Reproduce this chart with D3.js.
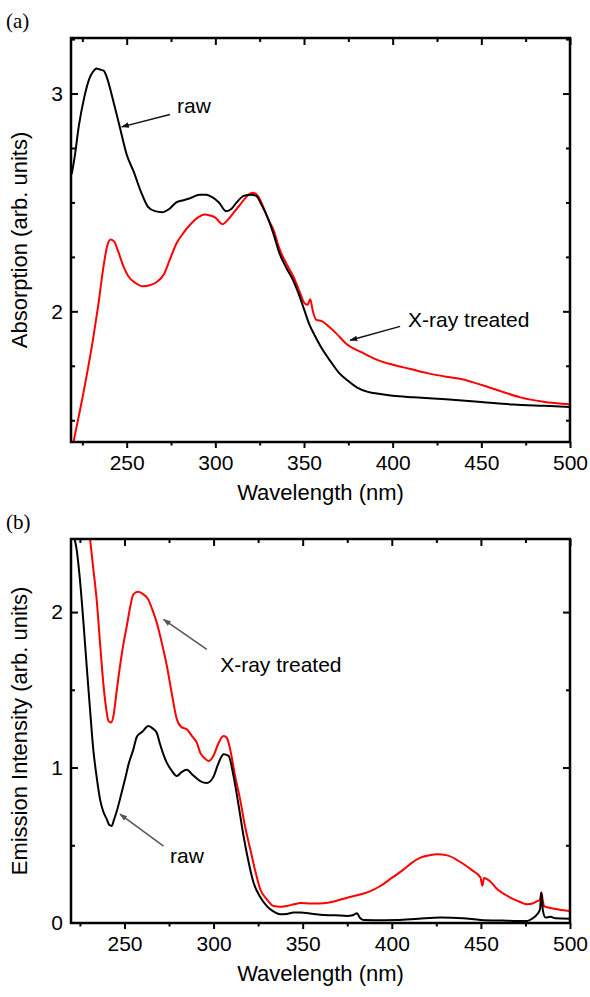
<!DOCTYPE html>
<html>
<head>
<meta charset="utf-8">
<script src="https://cdn.jsdelivr.net/npm/d3@7"></script>
<style>
  body { margin: 0; background: #fff; }
  text { font-family: "Liberation Sans", Arial, sans-serif; }
</style>
</head>
<body>
<div id="chart-area"></div>
<script>

// (a) absorption, raw
var absRawWl = [219, 220.5, 223, 226, 229, 231, 233, 235, 237, 239, 242, 246, 250, 254, 258, 262, 266, 270, 274, 278, 282, 286, 291, 295, 298, 302, 306, 309, 312, 316, 320, 323, 326, 330, 333, 336, 340, 344, 347, 350, 353, 356, 360, 365, 370, 375, 380, 386, 393, 400, 412, 430, 450, 468, 485, 500];
var absRawVal = [2.63, 2.70, 2.85, 2.98, 3.07, 3.10, 3.115, 3.11, 3.105, 3.07, 2.98, 2.85, 2.72, 2.64, 2.55, 2.48, 2.46, 2.455, 2.47, 2.50, 2.51, 2.52, 2.535, 2.535, 2.525, 2.50, 2.46, 2.47, 2.50, 2.53, 2.535, 2.53, 2.49, 2.42, 2.35, 2.27, 2.20, 2.14, 2.08, 2.01, 1.94, 1.89, 1.83, 1.77, 1.715, 1.68, 1.65, 1.63, 1.62, 1.612, 1.605, 1.596, 1.584, 1.572, 1.566, 1.561];

// (a) absorption, X-ray treated
var absXrWl = [220, 222, 225, 228, 231, 234, 237, 239, 241, 243, 245, 248, 251, 255, 259, 263, 267, 271, 274, 278, 282, 286, 290, 294, 297, 300, 304, 307, 310, 314, 318, 321, 324, 327, 330, 333, 336, 340, 344, 348, 350, 352, 353.5, 355, 357, 360, 364, 368, 374, 383, 392, 400, 410, 420, 430, 438, 445, 453, 462, 472, 485, 500];
var absXrVal = [1.40, 1.48, 1.60, 1.73, 1.87, 2.03, 2.21, 2.30, 2.33, 2.32, 2.28, 2.21, 2.16, 2.13, 2.115, 2.12, 2.135, 2.17, 2.23, 2.31, 2.36, 2.40, 2.43, 2.445, 2.44, 2.43, 2.40, 2.42, 2.45, 2.49, 2.53, 2.545, 2.53, 2.48, 2.42, 2.37, 2.29, 2.22, 2.16, 2.08, 2.04, 2.03, 2.055, 2.00, 1.96, 1.955, 1.93, 1.90, 1.85, 1.81, 1.775, 1.755, 1.735, 1.715, 1.70, 1.69, 1.675, 1.655, 1.63, 1.605, 1.585, 1.573];

// (b) emission, raw
var emRawWl = [222, 223.2, 225, 227, 228.8, 230.5, 232.5, 234.5, 236.3, 238, 240.1, 241.5, 242.9, 244, 245.7, 248, 250.3, 252.5, 255, 257, 260, 263.4, 266, 268.1, 270, 272, 273.8, 276.5, 279.4, 282, 285, 288.5, 292.5, 296.2, 299.9, 302.5, 305.6, 308.4, 311.2, 314, 316.8, 319.5, 322.4, 326, 329.9, 333.5, 337.4, 341, 344.9, 348.7, 355, 361.7, 368, 374.9, 378, 380.5, 382, 384.2, 390, 403, 415, 427.3, 440, 449.8, 462, 476, 479, 481.6, 483.2, 483.9, 484.8, 486.3, 489, 492, 500];
var emRawVal = [2.47, 2.40, 2.21, 1.93, 1.653, 1.40, 1.117, 0.93, 0.795, 0.72, 0.667, 0.63, 0.624, 0.66, 0.72, 0.82, 0.924, 1.03, 1.117, 1.20, 1.23, 1.267, 1.25, 1.224, 1.15, 1.08, 1.03, 0.98, 0.945, 0.97, 0.985, 0.95, 0.913, 0.90, 0.94, 1.02, 1.085, 1.075, 0.945, 0.76, 0.56, 0.40, 0.26, 0.17, 0.109, 0.075, 0.056, 0.058, 0.067, 0.067, 0.06, 0.051, 0.05, 0.045, 0.05, 0.062, 0.035, 0.019, 0.018, 0.02, 0.028, 0.035, 0.03, 0.02, 0.016, 0.013, 0.03, 0.056, 0.09, 0.196, 0.08, 0.035, 0.04, 0.03, 0.028];

// (b) emission, X-ray treated
var emXrWl = [230.7, 232.5, 234.4, 236.3, 238.1, 239.5, 241, 242.5, 243.8, 245.5, 247.5, 249.5, 251.3, 253, 255, 257.5, 260.6, 263.4, 265.5, 268.1, 271, 273.8, 276.5, 279.4, 282, 285, 288, 290.6, 292.5, 295, 297.1, 299.9, 302.5, 305.6, 307.5, 309.3, 312, 314.9, 317.5, 320.6, 323.5, 326.2, 330, 333.7, 337.5, 341.2, 345, 348.7, 355, 361.7, 368, 374.9, 380.5, 387, 393.6, 400, 406.7, 411, 416.1, 421, 425.4, 431.1, 436, 440.4, 445, 449.8, 450.8, 451.8, 455, 459.2, 464, 468.5, 472, 476, 479, 481.6, 483.2, 483.9, 484.8, 485.4, 488, 492, 500];
var emXrVal = [2.47, 2.28, 2.08, 1.80, 1.546, 1.40, 1.30, 1.29, 1.331, 1.48, 1.653, 1.80, 1.91, 2.02, 2.114, 2.13, 2.114, 2.08, 2.02, 1.932, 1.80, 1.653, 1.48, 1.31, 1.26, 1.246, 1.20, 1.16, 1.096, 1.06, 1.042, 1.074, 1.15, 1.203, 1.19, 1.117, 0.95, 0.795, 0.63, 0.474, 0.33, 0.217, 0.15, 0.109, 0.105, 0.109, 0.12, 0.128, 0.125, 0.127, 0.14, 0.163, 0.178, 0.20, 0.238, 0.29, 0.345, 0.385, 0.42, 0.435, 0.442, 0.435, 0.41, 0.378, 0.34, 0.292, 0.24, 0.29, 0.27, 0.217, 0.18, 0.152, 0.135, 0.12, 0.125, 0.14, 0.15, 0.196, 0.14, 0.109, 0.10, 0.09, 0.077];

var xTickLabels = [250, 300, 350, 400, 450, 500];
var absTickLabels = [2, 3];
var emTickLabels = [0, 1, 2];

var width = 590,
    height = 997;

var svg = d3.select("#chart-area").append("svg")
    .attr("width", width)
    .attr("height", height);

var defs = svg.append("defs");
function addMarker(id, color) {
  defs.append("marker")
      .attr("id", id)
      .attr("viewBox", "0 0 10 10")
      .attr("refX", 9)
      .attr("refY", 5)
      .attr("markerWidth", 8)
      .attr("markerHeight", 8)
      .attr("markerUnits", "userSpaceOnUse")
      .attr("orient", "auto")
    .append("path")
      .attr("d", "M0,1.5 L10,5 L0,8.5 Z")
      .style("fill", color);
}
addMarker("arrow-black", "#111");
addMarker("arrow-gray", "#555");

function zip(xs, ys) {
  return xs.map(function(x, i) { return {x: x, y: ys[i]}; });
}

function drawPanel(cfg) {
  var g = svg.append("g");
  var x = d3.scaleLinear().domain(cfg.xDomain).range([cfg.left, cfg.right]);
  var y = d3.scaleLinear().domain(cfg.yDomain).range([cfg.bottom, cfg.top]);

  var clipId = "clip-" + cfg.name;
  defs.append("clipPath").attr("id", clipId)
    .append("rect")
      .attr("x", cfg.left).attr("y", cfg.top)
      .attr("width", cfg.right - cfg.left).attr("height", cfg.bottom - cfg.top);

  var line = d3.line()
      .x(function(d) { return x(d.x); })
      .y(function(d) { return y(d.y); })
      .curve(d3.curveMonotoneX);

  // curves: red first, black on top where they overlap
  cfg.series.forEach(function(s) {
    g.append("path")
        .datum(zip(s.wl, s.val))
        .attr("clip-path", "url(#" + clipId + ")")
        .attr("d", line)
        .style("fill", "none")
        .style("stroke", s.color)
        .style("stroke-width", 2)
        .style("stroke-linejoin", "round");
  });

  var xMinor = d3.range(225, 501, 25);
  var yMinor = d3.range(cfg.yMinorStart, cfg.yDomain[1] + 1e-6, cfg.yMinorStep)
      .filter(function(v) { return v > cfg.yDomain[0] + 1e-6; });

  // bottom axis, ticks pointing out
  var xAxis = d3.axisBottom(x).tickValues(xMinor)
      .tickSize(5).tickPadding(8)
      .tickFormat(function(d) { return xTickLabels.indexOf(d) >= 0 ? d : ""; });
  var gx = g.append("g").attr("transform", "translate(0," + cfg.bottom + ")").call(xAxis);
  gx.selectAll(".tick line").attr("y2", function(d) { return d % 50 === 0 ? 6 : 3.5; });

  // top ticks pointing in
  var gt = g.append("g").attr("transform", "translate(0," + cfg.top + ")")
      .call(d3.axisBottom(x).tickValues(xMinor).tickSize(6).tickFormat(""));
  gt.selectAll(".tick line").attr("y2", function(d) { return d % 50 === 0 ? 7 : 4; });

  // left ticks pointing in
  var yAxis = d3.axisRight(y).tickValues(yMinor).tickSize(6)
      .tickFormat("");
  var gy = g.append("g").attr("transform", "translate(" + cfg.left + ",0)").call(yAxis);
  gy.selectAll(".tick line").attr("x2", function(d) { return Math.abs(d - Math.round(d)) < 1e-6 ? 7 : 4; });

  g.selectAll(".ylab")
      .data(cfg.yLabels)
      .enter().append("text")
      .attr("class", "ylab")
      .attr("x", cfg.left - 8)
      .attr("y", function(d) { return y(d); })
      .attr("dy", "0.35em")
      .attr("text-anchor", "end")
      .style("font-size", "21px")
      .text(function(d) { return d; });

  // right ticks pointing in
  var gr = g.append("g").attr("transform", "translate(" + cfg.right + ",0)")
      .call(d3.axisLeft(y).tickValues(yMinor).tickSize(6).tickFormat(""));
  gr.selectAll(".tick line").attr("x2", function(d) { return Math.abs(d - Math.round(d)) < 1e-6 ? -7 : -4; });

  g.selectAll(".domain").remove();
  g.selectAll(".tick line").style("stroke", "#000").style("stroke-width", 2);
  gx.selectAll(".tick text").style("font-size", "21px").style("font-family", "Liberation Sans, Arial, sans-serif").style("fill", "#000");

  // frame
  g.append("rect")
      .attr("x", cfg.left).attr("y", cfg.top)
      .attr("width", cfg.right - cfg.left).attr("height", cfg.bottom - cfg.top)
      .style("fill", "none").style("stroke", "#000").style("stroke-width", 2.5);

  // axis titles
  g.append("text")
      .attr("x", (cfg.left + cfg.right) / 2)
      .attr("y", cfg.bottom + 58)
      .attr("text-anchor", "middle")
      .style("font-size", "22px")
      .text("Wavelength (nm)");

  g.append("text")
      .attr("transform", "translate(27," + ((cfg.top + cfg.bottom) / 2) + ") rotate(-90)")
      .attr("text-anchor", "middle")
      .style("font-size", "22px")
      .text(cfg.yTitle);

  // panel letter
  g.append("text")
      .attr("x", 6)
      .attr("y", cfg.top - 10)
      .style("font-family", "Liberation Serif, Times New Roman, serif")
      .style("font-size", "21px")
      .text(cfg.letter);

  // annotations
  cfg.notes.forEach(function(n) {
    g.append("line")
        .attr("x1", x(n.from[0])).attr("y1", y(n.from[1]))
        .attr("x2", x(n.to[0])).attr("y2", y(n.to[1]))
        .style("stroke", n.color)
        .style("stroke-width", 1.5)
        .attr("marker-end", "url(#" + n.marker + ")");
    g.append("text")
        .attr("x", x(n.at[0])).attr("y", y(n.at[1]))
        .style("font-size", "21px")
        .text(n.text);
  });
}

drawPanel({
  name: "a", letter: "(a)",
  left: 71, right: 570, top: 38, bottom: 442,
  xDomain: [218.6, 500], yDomain: [1.4, 3.255],
  yMinorStart: 1.5, yMinorStep: 0.25,
  yLabels: absTickLabels,
  yTitle: "Absorption (arb. units)",
  series: [
    {wl: absXrWl, val: absXrVal, color: "#ff0000"},
    {wl: absRawWl, val: absRawVal, color: "#000"}
  ],
  notes: [
    {text: "raw", at: [278.4, 2.91], from: [274.4, 2.904], to: [247.2, 2.847], color: "#111", marker: "arrow-black"},
    {text: "X-ray treated", at: [408.7, 1.93], from: [404.2, 1.931], to: [376, 1.867], color: "#111", marker: "arrow-black"}
  ]
});

drawPanel({
  name: "b", letter: "(b)",
  left: 71, right: 570, top: 539, bottom: 923,
  xDomain: [220, 500], yDomain: [0, 2.47],
  yMinorStart: 0.5, yMinorStep: 0.5,
  yLabels: emTickLabels,
  yTitle: "Emission Intensity (arb. units)",
  series: [
    {wl: emXrWl, val: emXrVal, color: "#ff0000"},
    {wl: emRawWl, val: emRawVal, color: "#000"}
  ],
  notes: [
    {text: "X-ray treated", at: [303.7, 1.612], from: [296.2, 1.76], to: [271.9, 1.953], color: "#555", marker: "arrow-gray"},
    {text: "raw", at: [275.6, 0.384], from: [271.9, 0.495], to: [247.5, 0.70], color: "#555", marker: "arrow-gray"}
  ]
});

</script>
</body>
</html>
